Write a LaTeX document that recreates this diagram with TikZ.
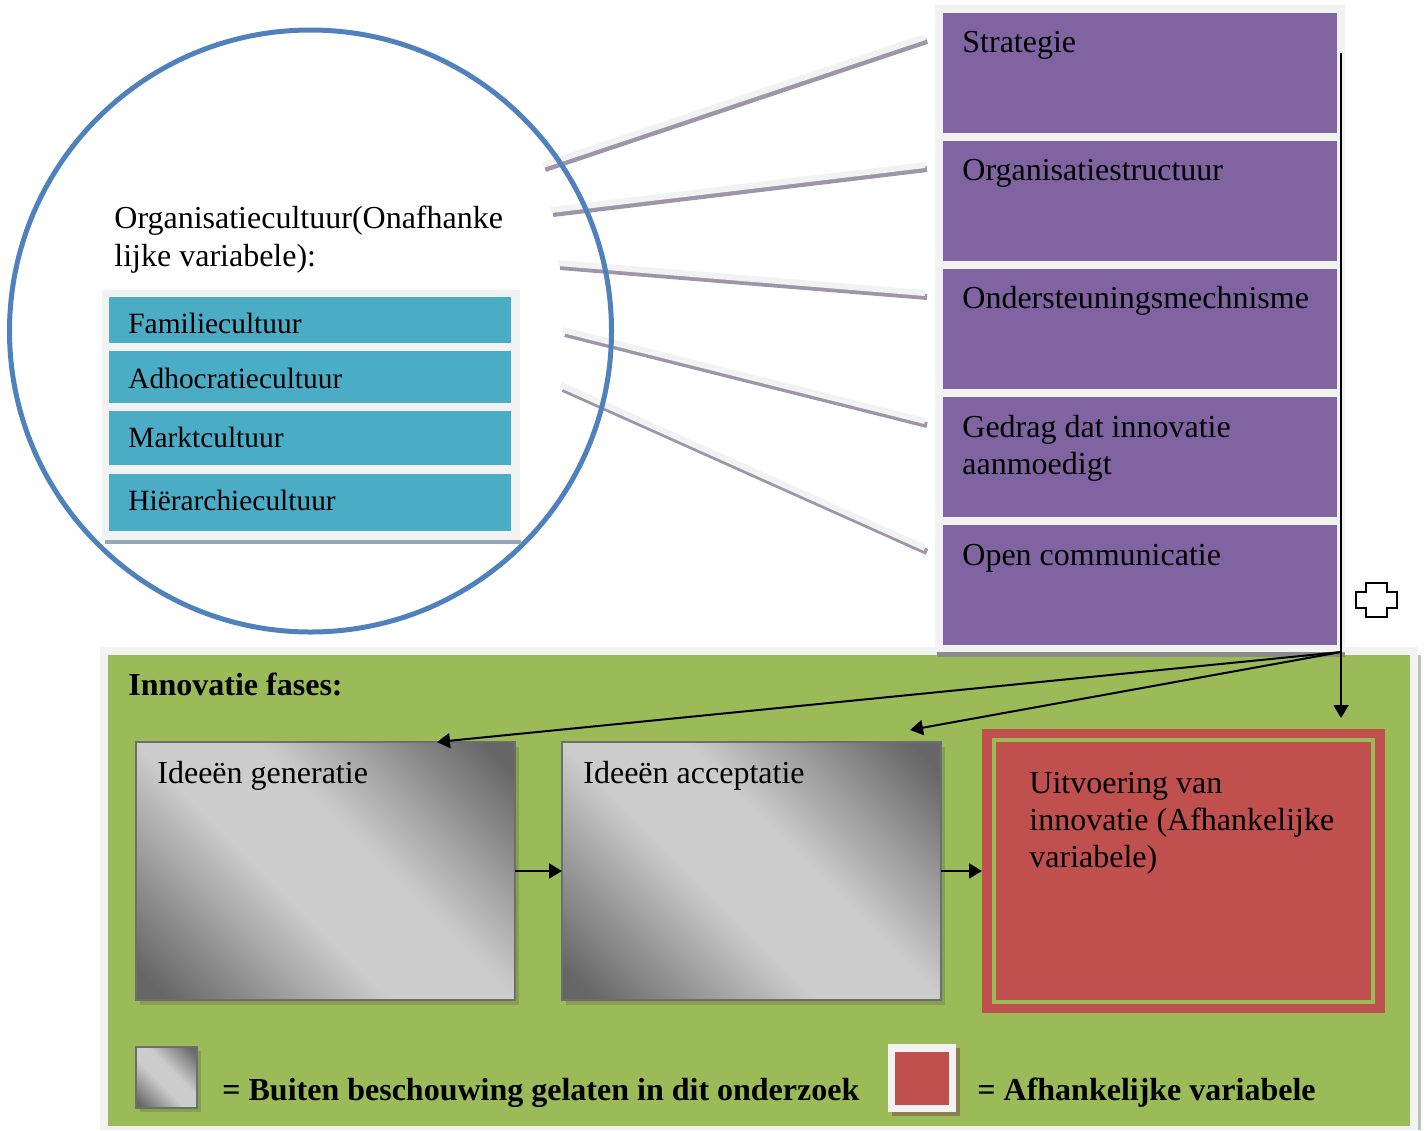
\documentclass[tikz,border=0pt]{standalone}
\usepackage{fontspec}
\setmainfont{Liberation Serif}
\usetikzlibrary{arrows.meta,calc}
\definecolor{cpurple}{HTML}{8064A2}
\definecolor{ccyan}{HTML}{4BACC6}
\definecolor{cgreen}{HTML}{9BBB59}
\definecolor{cred}{HTML}{C0504D}
\definecolor{cblue}{HTML}{4F81BD}
\definecolor{cpanel}{HTML}{F2F2F2}
\definecolor{linkshade}{HTML}{9F95AA}
\definecolor{gdark}{HTML}{666666}
\definecolor{glight}{HTML}{CCCCCC}
\definecolor{gborder}{HTML}{6E6E6E}
\definecolor{gshadow}{HTML}{86A052}
\definecolor{pshadow}{HTML}{8C8C8C}
\definecolor{cshadow}{HTML}{93AAB5}
\definecolor{rshadow}{HTML}{8A7D4E}
\pgfdeclarehorizontalshading{grayband}{100bp}{color(0bp)=(gdark); color(18bp)=(gdark); color(43bp)=(glight); color(57bp)=(glight); color(82bp)=(gdark); color(100bp)=(gdark)}
\begin{document}
\begin{tikzpicture}[x=0.5pt,y=-0.5pt,
  box/.style={rectangle, draw=none, inner sep=0pt, outer sep=0pt},
  pbox/.style={box, fill=cpurple, minimum width=197pt, minimum height=60pt},
  cbox/.style={box, fill=ccyan, minimum width=201pt},
  gbox/.style={box, shading=grayband, shading angle=45, draw=gborder, line width=1pt, minimum width=189.5pt, minimum height=129pt},
  txt/.style={anchor=base west, inner sep=0pt, font=\fontsize{16}{18.5}\selectfont},
  stxt/.style={anchor=base west, inner sep=0pt, font=\fontsize{14.7}{17}\selectfont},
  btxt/.style={anchor=base west, inner sep=0pt, font=\fontsize{16}{18.5}\selectfont\bfseries},
  arr/.style={-{Triangle[length=6.5pt,width=7.5pt]}, line width=1pt},
  linkshadow/.style={line width=3pt, draw=linkshade},
  linklight/.style={line width=3pt, draw=cpanel}]
\useasboundingbox (0,0) rectangle (1427,1130);

% ---------- green panel ----------
\fill[black!25] (1418,655) rectangle (1421,1130);
\node[box, fill=cpanel, minimum width=659pt, minimum height=241.5pt] (gpanel) at (759,888.5) {};
\node[box, fill=cgreen, minimum width=651pt, minimum height=235.5pt] (green) at (759,890.5) {};
\node[btxt] (ftitle) at (128,695) {Innovatie fases:};

% gray boxes with shadows
\fill[gshadow] (140,747) rectangle (519,1005);
\fill[gshadow] (566,747) rectangle (945,1005);
\node[gbox] (g1) at (325.5,871) {};
\node[gbox] (g2) at (751.5,871) {};
\node[txt] (g1t) at (157,783) {Ideeën generatie};
\node[txt] (g2t) at (583,783) {Ideeën acceptatie};

% red box
\node[box, fill=cred, minimum width=201.5pt, minimum height=142pt] (r) at (1183.5,871) {};
\draw[cgreen, line width=2pt] ([shift={(12,11)}]r.north west) rectangle ([shift={(-12,-11)}]r.south east);
\node[txt] (rt1) at (1029,793) {Uitvoering van};
\node[txt] (rt2) at (1029,830) {innovatie (Afhankelijke};
\node[txt] (rt3) at (1029,867) {variabele)};

\draw[arr] (g1.east) -- (g2.west);
\draw[arr] (g2.east) -- (r.west);

% legend
\fill[gshadow] (140,1051) rectangle (201,1112);
\node[box, shading=grayband, shading angle=45, draw=gborder, line width=1pt, minimum width=30.5pt, minimum height=30.5pt] (lg) at (166.5,1077.5) {};
\node[btxt] (lgt) at (222,1100) {= Buiten beschouwing gelaten in dit onderzoek};
\fill[rshadow] (892,1048) rectangle (960,1116);
\node[box, fill=cpanel, minimum width=34pt, minimum height=34pt] (lr) at (922,1078) {};
\node[box, fill=cred, minimum width=27pt, minimum height=26.5pt] (lri) at (922,1078.5) {};
\node[btxt] (lrt) at (977,1100) {= Afhankelijke variabele};

% ---------- links from circle to purple column ----------
\coordinate (a1) at (543,165); \coordinate (b1) at (925,37);
\coordinate (a2) at (551,210); \coordinate (b2) at (925,165);
\coordinate (a3) at (558,263); \coordinate (b3) at (925,293);
\coordinate (a4) at (563,330); \coordinate (b4) at (925,421);
\coordinate (a5) at (561,385); \coordinate (b5) at (925,548);
\foreach \i in {1,...,5}{
  \draw[linkshadow] ([shift={(2,4)}]a\i) -- ([shift={(2,4)}]b\i);
  \draw[linklight] (a\i) -- (b\i);
}

% ---------- circle ----------
\node[circle, draw=cblue, line width=2.5pt, minimum size=301pt, inner sep=0pt] (circ) at (310.5,331) {};
\node[txt] (ct1) at (114,228) {Organisatiecultuur(Onafhanke};
\node[txt] (ct2) at (114,266) {lijke variabele):};

% cyan panel
\fill[cshadow] (105,540) rectangle (521,544);
\node[box, fill=cpanel, minimum width=209pt, minimum height=125pt] (cpan) at (311,415) {};
\node[cbox, minimum height=23pt] (c1) at (310,320) {};
\node[cbox, minimum height=26pt] (c2) at (310,377) {};
\node[cbox, minimum height=27pt] (c3) at (310,438) {};
\node[cbox, minimum height=28.5pt] (c4) at (310,502.5) {};
\node[stxt] (c1t) at (128,333) {Familiecultuur};
\node[stxt] (c2t) at (128,388) {Adhocratiecultuur};
\node[stxt] (c3t) at (128,447) {Marktcultuur};
\node[stxt] (c4t) at (128,510) {Hiërarchiecultuur};

% ---------- purple column ----------
\fill[pshadow] (937,652) rectangle (1345,657);
\node[box, fill=cpanel, minimum width=205pt, minimum height=323.5pt] (ppan) at (1140,328.5) {};
\node[pbox] (p1) at (1140,73) {};
\node[pbox] (p2) at (1140,201) {};
\node[pbox] (p3) at (1140,329) {};
\node[pbox] (p4) at (1140,457) {};
\node[pbox] (p5) at (1140,585) {};
\node[txt] (p1t) at (962,52) {Strategie};
\node[txt] (p2t) at (962,180) {Organisatiestructuur};
\node[txt] (p3t) at (962,308) {Ondersteuningsmechnisme};
\node[txt] (p4t) at (962,437) {Gedrag dat innovatie};
\node[txt] (p4u) at (962,474) {aanmoedigt};
\node[txt] (p5t) at (962,565) {Open communicatie};

% ---------- black connectors ----------
\coordinate (top) at (1341,53);
\coordinate (hub) at (1341,652);
\coordinate (rtip) at (1341,718);
\coordinate (g1tip) at ([shift={(111.5,0)}]g1.north);
\coordinate (g2tip) at ([shift={(-31,-12)}]g2.north east);
\draw[arr] (top) -- (rtip);
\draw[arr] (hub) -- (g1tip);
\draw[arr] (hub) -- (g2tip);

% cross symbol
\draw[line width=1pt, fill=white] (1366,583) -- (1387,583) -- (1387,592) -- (1397,592) -- (1397,608) -- (1387,608) -- (1387,617) -- (1366,617) -- (1366,608) -- (1356,608) -- (1356,592) -- (1366,592) -- cycle;
\end{tikzpicture}
\end{document}
